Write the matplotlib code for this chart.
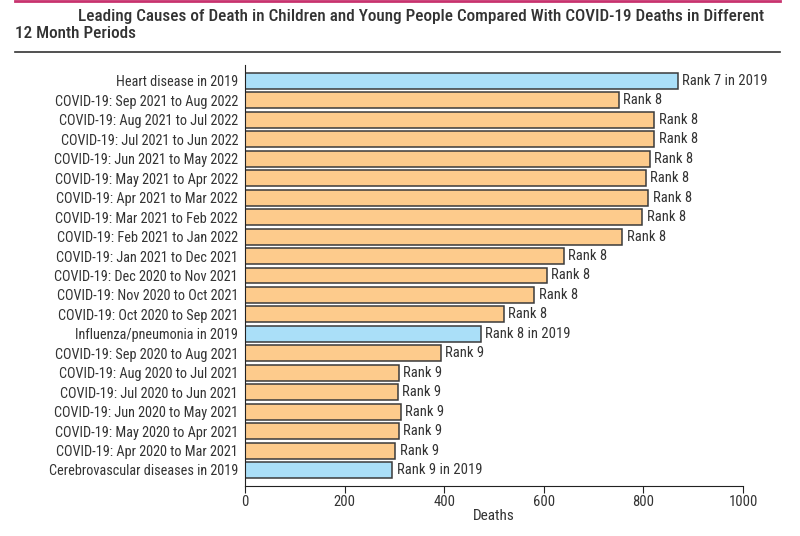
import matplotlib.pyplot as plt
from matplotlib import font_manager
from matplotlib.lines import Line2D

# data, top to bottom
labels = [
    'Heart disease in 2019',
    'COVID-19: Sep 2021 to Aug 2022',
    'COVID-19: Aug 2021 to Jul 2022',
    'COVID-19: Jul 2021 to Jun 2022',
    'COVID-19: Jun 2021 to May 2022',
    'COVID-19: May 2021 to Apr 2022',
    'COVID-19: Apr 2021 to Mar 2022',
    'COVID-19: Mar 2021 to Feb 2022',
    'COVID-19: Feb 2021 to Jan 2022',
    'COVID-19: Jan 2021 to Dec 2021',
    'COVID-19: Dec 2020 to Nov 2021',
    'COVID-19: Nov 2020 to Oct 2021',
    'COVID-19: Oct 2020 to Sep 2021',
    'Influenza/pneumonia in 2019',
    'COVID-19: Sep 2020 to Aug 2021',
    'COVID-19: Aug 2020 to Jul 2021',
    'COVID-19: Jul 2020 to Jun 2021',
    'COVID-19: Jun 2020 to May 2021',
    'COVID-19: May 2020 to Apr 2021',
    'COVID-19: Apr 2020 to Mar 2021',
    'Cerebrovascular diseases in 2019',
]
deaths = [870, 750, 822, 822, 813, 805, 810, 798, 758, 640, 606, 581, 520,
          473, 393, 309, 307, 313, 309, 302, 296]
ranks = ['Rank 7 in 2019'] + ['Rank 8'] * 12 + ['Rank 8 in 2019'] + ['Rank 9'] * 6 + ['Rank 9 in 2019']
is_2019 = [l.endswith('in 2019') for l in labels]

BLUE = '#aadff8'
ORANGE = '#fdcb8c'
TXT = '#333333'

# pick a narrow face if there is one
installed = {f.name for f in font_manager.fontManager.ttflist}
family = 'DejaVu Sans'
for name in ['Roboto Condensed', 'Open Sans Condensed', 'Liberation Sans Narrow', 'Roboto']:
    if name in installed:
        family = name
        break
plt.rcParams['font.family'] = [family, 'DejaVu Sans']

fig = plt.figure(figsize=(8, 5.36), dpi=100)
ax = fig.add_axes([0.30625, 0.0934, 0.6225, 0.7853])

ypos = list(range(len(labels)))
colors = [BLUE if b else ORANGE for b in is_2019]
ax.barh(ypos, deaths, height=0.82, color=colors, edgecolor='#3a3a3a', linewidth=1.1)

for y, d, r in zip(ypos, deaths, ranks):
    ax.annotate(r, (d, y), xytext=(3, 0), textcoords='offset points',
                va='center', ha='left', fontsize=10.5, color=TXT)

ax.set_xlim(0, 1000)
ax.set_ylim(20.82, -0.82)
ax.set_yticks(ypos)
ax.set_yticklabels(labels, fontsize=10.3, color=TXT)
ax.tick_params(axis='y', length=0, pad=5)
ax.set_xticks([0, 200, 400, 600, 800, 1000])
ax.tick_params(axis='x', labelsize=10.5, labelcolor=TXT, length=5, pad=1.5,
               color='#222222', direction='out')
ax.set_xlabel('Deaths', fontsize=11, color=TXT, labelpad=0)
for s in ['top', 'right']:
    ax.spines[s].set_visible(False)
ax.spines['left'].set_color('#222222')
ax.spines['bottom'].set_color('#222222')

# title block
fig.text(0.0975, 0.970, 'Leading Causes of Death in Children and Young People Compared With COVID-19 Deaths in Different',
         fontsize=12.3, fontweight='medium', color=TXT, ha='left', va='center')
fig.text(0.019, 0.937, '12 Month Periods', fontsize=12.3, fontweight='medium', color=TXT,
         ha='left', va='center')
fig.add_artist(Line2D([0.019, 0.975], [0.998, 0.998], color='#c8326e', lw=2, transform=fig.transFigure))
fig.add_artist(Line2D([0.019, 0.975], [0.903, 0.903], color='#333333', lw=1.2, transform=fig.transFigure))

fig.savefig('out.png', dpi=100)
